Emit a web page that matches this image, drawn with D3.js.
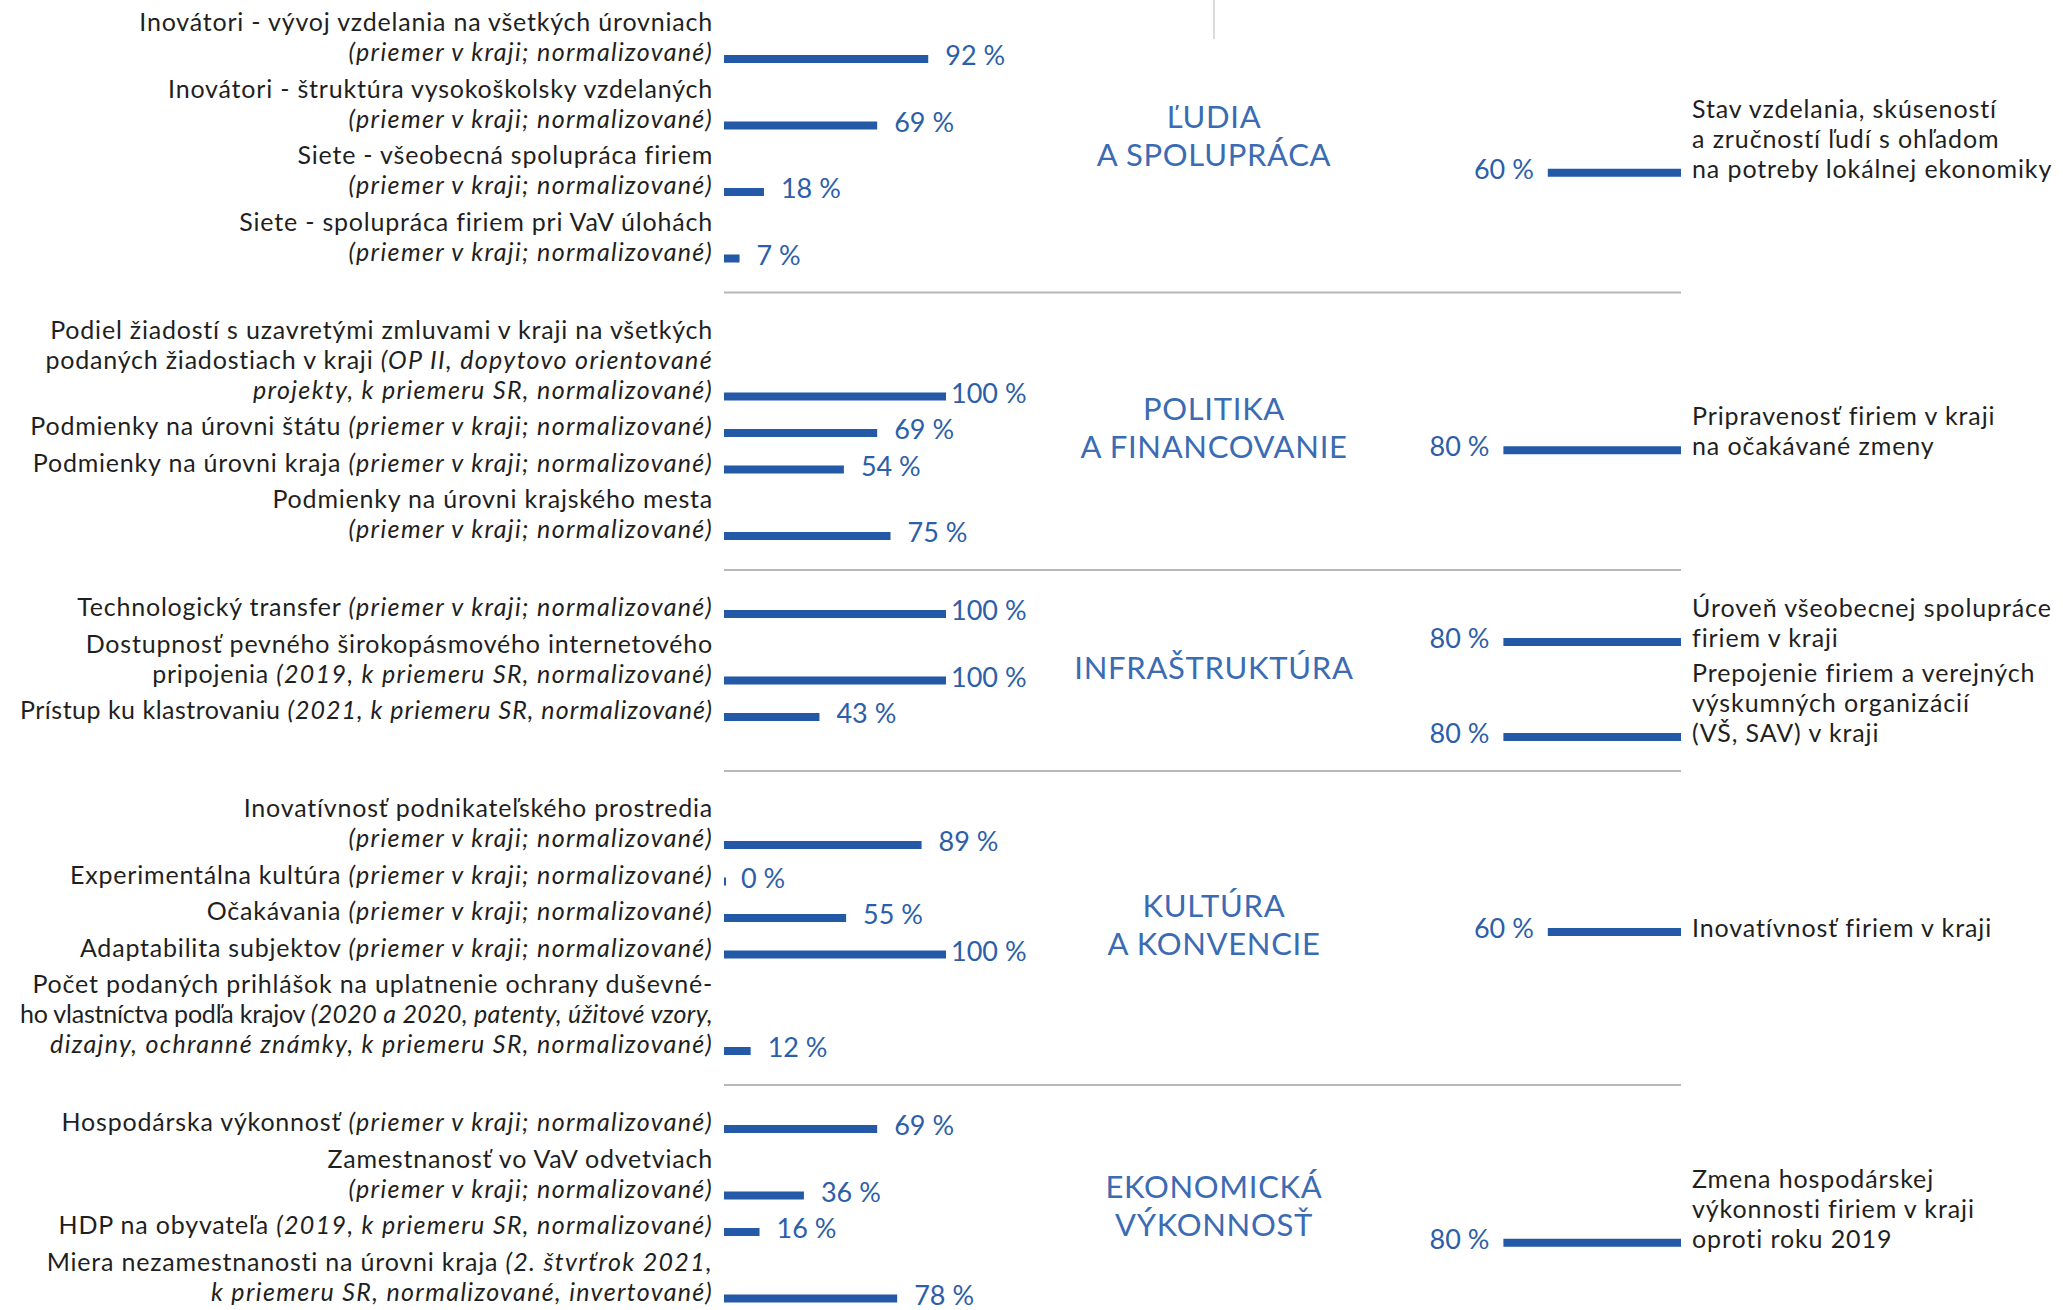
<!DOCTYPE html>
<html>
<head>
<meta charset="utf-8">
<script src="https://cdn.jsdelivr.net/npm/d3@7"></script>
<style>
  html, body { margin: 0; padding: 0; background: #fff; }
  svg { display: block; }
  text { font-family: Lato, "Noto Sans", sans-serif; }
</style>
</head>
<body>
<svg id="chart" width="2063" height="1310"></svg>
<script>
// Pillars of the regional innovation profile (shown in the middle column)
const pillarNames = [
  ["ĽUDIA", "A SPOLUPRÁCA"],
  ["POLITIKA", "A FINANCOVANIE"],
  ["INFRAŠTRUKTÚRA"],
  ["KULTÚRA", "A KONVENCIE"],
  ["EKONOMICKÁ", "VÝKONNOSŤ"]
];

// Indicators (left column); text between * * is set in italics
const indicatorLabels = [
  ["Inovátori - vývoj vzdelania na všetkých úrovniach", "*(priemer v kraji; normalizované)*"],
  ["Inovátori - štruktúra vysokoškolsky vzdelaných", "*(priemer v kraji; normalizované)*"],
  ["Siete - všeobecná spolupráca firiem", "*(priemer v kraji; normalizované)*"],
  ["Siete - spolupráca firiem pri VaV úlohách", "*(priemer v kraji; normalizované)*"],
  ["Podiel žiadostí s uzavretými zmluvami v kraji na všetkých",
   "podaných žiadostiach v kraji *(OP II, dopytovo orientované*",
   "*projekty, k priemeru SR, normalizované)*"],
  ["Podmienky na úrovni štátu *(priemer v kraji; normalizované)*"],
  ["Podmienky na úrovni kraja *(priemer v kraji; normalizované)*"],
  ["Podmienky na úrovni krajského mesta", "*(priemer v kraji; normalizované)*"],
  ["Technologický transfer *(priemer v kraji; normalizované)*"],
  ["Dostupnosť pevného širokopásmového internetového", "pripojenia *(2019, k priemeru SR, normalizované)*"],
  ["Prístup ku klastrovaniu *(2021, k priemeru SR, normalizované)*"],
  ["Inovatívnosť podnikateľského prostredia", "*(priemer v kraji; normalizované)*"],
  ["Experimentálna kultúra *(priemer v kraji; normalizované)*"],
  ["Očakávania *(priemer v kraji; normalizované)*"],
  ["Adaptabilita subjektov *(priemer v kraji; normalizované)*"],
  ["Počet podaných prihlášok na uplatnenie ochrany duševné-",
   "ho vlastníctva podľa krajov *(2020 a 2020, patenty, úžitové vzory,*",
   "*dizajny, ochranné známky, k priemeru SR, normalizované)*"],
  ["Hospodárska výkonnosť *(priemer v kraji; normalizované)*"],
  ["Zamestnanosť vo VaV odvetviach", "*(priemer v kraji; normalizované)*"],
  ["HDP na obyvateľa *(2019, k priemeru SR, normalizované)*"],
  ["Miera nezamestnanosti na úrovni kraja *(2. štvrťrok 2021,*", "*k priemeru SR, normalizované, invertované)*"]
];
const indicatorPillar = [0, 0, 0, 0, 1, 1, 1, 1, 2, 2, 2, 3, 3, 3, 3, 3, 4, 4, 4, 4];
const indicatorValues = [92, 69, 18, 7, 100, 69, 54, 75, 100, 100, 43, 89, 0, 55, 100, 12, 69, 36, 16, 78];

// Firm survey results (right column)
const firmLabels = [
  ["Stav vzdelania, skúseností", "a zručností ľudí s ohľadom", "na potreby lokálnej ekonomiky"],
  ["Pripravenosť firiem v kraji", "na očakávané zmeny"],
  ["Úroveň všeobecnej spolupráce", "firiem v kraji"],
  ["Prepojenie firiem a verejných", "výskumných organizácií", "(VŠ, SAV) v kraji"],
  ["Inovatívnosť firiem v kraji"],
  ["Zmena hospodárskej", "výkonnosti firiem v kraji", "oproti roku 2019"]
];
const firmPillar = [0, 1, 2, 2, 3, 4];
const firmValues = [60, 80, 80, 80, 60, 80];

// ---- styling / layout constants ----
const BLUE = "#2359a6", VALUE_BLUE = "#2c5ea9", PILLAR_BLUE = "#3b6bb3", INK = "#1f1f1f", RULE = "#b8b8b8";
const LINE = 30, ITEM_GAP = 6.5, FIRST_PAD = 14, BOTTOM_PAD = 34, RIGHT_PAD = 46, FIRM_GAP = 5, CAT_LINE = 38;
const BAR_H = 8, LABEL_SIZE = 25, VALUE_SIZE = 27, PILLAR_SIZE = 31;
const ROMAN_SPACING = 0.8, ITALIC_SPACING = 1.35;
const LABEL_RIGHT = 713, LABEL_MIN_LEFT = 20, FIRM_TEXT_X = 1692, PILLAR_X = 1214;

const x = d3.scaleLinear().domain([0, 100]).range([724, 946]);      // left bars grow to the right
const xr = d3.scaleLinear().domain([0, 100]).range([1681, 1459]);   // right bars grow to the left
const fmt = v => `${v} %`;

// ---- vertical layout: stack indicators, centre pillar name and firm results per section ----
const indY = [], firmLineY = [], firmY = [], sections = [];
let sectionTop = -15;
pillarNames.forEach((name, p) => {
  let y = sectionTop;
  let first = true;
  indicatorPillar.forEach((pp, i) => {
    if (pp !== p) return;
    y += indicatorLabels[i].length * LINE + (first ? FIRST_PAD : ITEM_GAP);
    first = false;
    indY[i] = y;
  });
  const firms = firmPillar.map((pp, f) => pp === p ? f : -1).filter(f => f >= 0);
  const nLines = d3.sum(firms, f => firmLabels[f].length);
  const rightH = nLines * LINE + (firms.length - 1) * FIRM_GAP;
  const bottom = Math.max(y + BOTTOM_PAD, sectionTop + rightH + RIGHT_PAD);
  const center = (sectionTop + bottom) / 2;
  let lc = center - rightH / 2 + LINE / 2;
  firms.forEach(f => {
    firmLineY[f] = firmLabels[f].map(() => { const c = lc; lc += LINE; return c; });
    lc += FIRM_GAP;
    firmY[f] = firmLineY[f][firmLineY[f].length - 1] + 4;
  });
  sections.push({ top: sectionTop, bottom, center, name });
  sectionTop = bottom;
});

const svg = d3.select("#chart");

// short divider at the top of the pillar column
svg.append("line")
  .attr("x1", PILLAR_X).attr("x2", PILLAR_X).attr("y1", 0).attr("y2", 39)
  .attr("stroke", "#cfcfcf").attr("stroke-width", 1.5);

// section separators
svg.append("g").selectAll("line").data(sections.slice(0, -1)).join("line")
  .attr("x1", x(0)).attr("x2", xr(0))
  .attr("y1", d => d.bottom).attr("y2", d => d.bottom)
  .attr("stroke", RULE).attr("stroke-width", 2);

// pillar names
svg.append("g").selectAll("text").data(sections).join("text")
  .attr("text-anchor", "middle")
  .attr("font-size", PILLAR_SIZE)
  .attr("letter-spacing", 0.7)
  .attr("fill", PILLAR_BLUE)
  .each(function (d) {
    const n = d.name.length;
    d3.select(this).selectAll("tspan").data(d.name).join("tspan")
      .attr("x", PILLAR_X)
      .attr("y", (t, j) => d.center + (j - (n - 1) / 2) * CAT_LINE + 8)
      .text(t => t);
  });

// writes a line with *italic* segments as tspans
function richLine(sel, line) {
  line.split("*").forEach((part, k) => {
    if (!part) return;
    sel.append("tspan")
      .attr("font-style", k % 2 ? "italic" : "normal")
      .attr("letter-spacing", k % 2 ? ITALIC_SPACING : ROMAN_SPACING)
      .text(part);
  });
}

const ind = indicatorValues.map((v, i) => ({ v, i, y: indY[i], lines: indicatorLabels[i] }));

// indicator labels
const lg = svg.append("g").attr("font-size", LABEL_SIZE).attr("fill", INK).attr("text-anchor", "end");
ind.forEach(d => {
  const n = d.lines.length;
  d.lines.forEach((ln, j) => {
    const t = lg.append("text").attr("x", LABEL_RIGHT).attr("y", d.y + 2 - (n - 1 - j) * LINE);
    richLine(t, ln);
  });
});

// tighten any label line that would run past the left margin
lg.selectAll("text").each(function () {
  const maxW = LABEL_RIGHT - LABEL_MIN_LEFT;
  const len = this.getComputedTextLength();
  if (len > maxW) {
    const cut = (len - maxW) / this.textContent.length;
    d3.select(this).selectAll("tspan")
      .attr("letter-spacing", function () { return +this.getAttribute("letter-spacing") - cut; });
  }
});

// indicator bars
svg.append("g").selectAll("rect").data(ind).join("rect")
  .attr("x", x(0))
  .attr("y", d => d.y - BAR_H / 2)
  .attr("width", d => Math.max(2, x(d.v) - x(0)))
  .attr("height", BAR_H)
  .attr("fill", BLUE);

// indicator values
svg.append("g").selectAll("text").data(ind).join("text")
  .attr("x", d => Math.min(x(d.v) + 17, x(100) + 5))
  .attr("y", d => d.y + 6)
  .attr("font-size", VALUE_SIZE)
  .attr("fill", VALUE_BLUE)
  .text(d => fmt(d.v));

const firms = firmValues.map((v, f) => ({ v, f, y: firmY[f], lines: firmLabels[f], ly: firmLineY[f] }));

// firm bars
svg.append("g").selectAll("rect").data(firms).join("rect")
  .attr("x", d => xr(d.v))
  .attr("y", d => d.y - BAR_H / 2)
  .attr("width", d => xr(0) - xr(d.v))
  .attr("height", BAR_H)
  .attr("fill", BLUE);

// firm values
svg.append("g").selectAll("text").data(firms).join("text")
  .attr("x", d => xr(d.v) - 14)
  .attr("y", d => d.y + 6)
  .attr("text-anchor", "end")
  .attr("font-size", VALUE_SIZE)
  .attr("fill", VALUE_BLUE)
  .text(d => fmt(d.v));

// firm labels
const fg = svg.append("g").attr("font-size", LABEL_SIZE).attr("fill", INK).attr("letter-spacing", 0.9);
firms.forEach(d => {
  d.lines.forEach((ln, j) => {
    fg.append("text").attr("x", FIRM_TEXT_X).attr("y", d.ly[j] + 9).text(ln);
  });
});
</script>
</body>
</html>
